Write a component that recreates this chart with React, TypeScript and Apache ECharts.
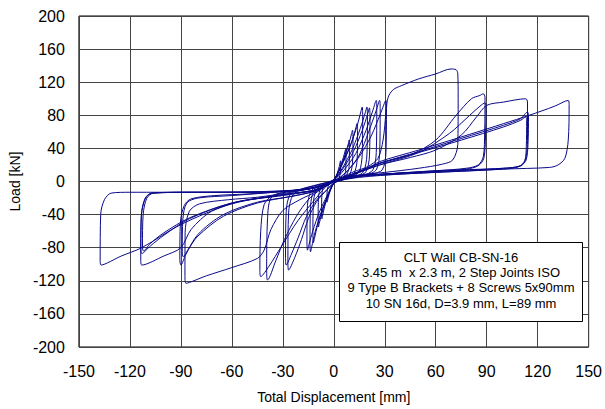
import React, { useEffect, useRef } from "react";
import * as echarts from "echarts";

// Tick values
const xTicks = [-150, -120, -90, -60, -30, 0, 30, 60, 90, 120, 150];
const yTicks = [-200, -160, -120, -80, -40, 0, 40, 80, 120, 160, 200];

const legendLines = [
  "CLT Wall CB-SN-16",
  "3.45 m  x 2.3 m, 2 Step Joints ISO",
  "9 Type B Brackets + 8 Screws 5x90mm",
  "10 SN 16d, D=3.9 mm, L=89 mm",
];

// [displacement mm, load kN], in loading order
const initialCycles: number[][] = [
  [0, 0], [1, 5], [2.2, 11], [3.2, 18], [4, 25], [4.1, 21], [3.8, 10], [3, 4], [1.5, 1], [0, -2],
  [-1, -6], [-2.2, -12], [-3.2, -19], [-4, -25], [-4.1, -21], [-3.8, -10], [-3, -4], [-1.5, -1], [0, 2],
  [1.8, 8], [3.9, 18], [5.6, 29], [6.7, 37], [7, 40], [7.2, 34], [7, 14], [6, 6], [3, 3], [0, -2],
  [-1.8, -9], [-3.9, -20], [-5.6, -32], [-6.7, -42], [-7, -45], [-7.2, -38], [-7, -16], [-6, -7], [-3, -3], [0, 2],
  [2.3, 10], [5, 22], [7.2, 36], [8.6, 46], [9, 50], [9.2, 43], [9, 18], [7.5, 8], [4, 3], [0, -2],
  [-2.3, -11], [-5, -25], [-7.2, -40], [-8.6, -51], [-9, -55], [-9.2, -47], [-9, -19], [-7.5, -8], [-4, -3], [0, 2],
];

const smallCycles: number[][] = [
  [2.8, 12], [6, 28], [8.8, 45], [10.5, 58], [11, 62], [11.3, 54], [11, 22], [9.5, 9], [7, 5], [4, 3], [0, -2],
  [-3, -15], [-6.6, -33], [-9.6, -53], [-11.4, -69], [-12, -74], [-12.3, -65], [-12, -26], [-10.5, -11], [-8, -6], [-4, -3], [0, 2],
  [3.4, 14], [7.5, 32], [11, 50], [13, 65], [13.7, 70], [14, 62], [13.7, 25], [12, 10], [9, 5], [5, 3], [0, -2],
  [-3.4, -17], [-7.5, -38], [-11, -61], [-13, -79], [-13.7, -85], [-14, -75], [-13.7, -30], [-12, -12], [-9, -6], [-5, -3], [0, 2],
  [4, 18], [9, 40], [13.4, 65], [15.9, 84], [16.7, 90], [17, 80], [16.7, 32], [15, 12], [11, 6], [6, 3], [0, -2],
  [-3.9, -17], [-8.5, -37], [-12.4, -60], [-14.7, -77], [-15.5, -83], [-15.8, -73], [-15.5, -29], [-13.5, -12], [-10, -6], [-5, -3], [0, 2],
  [5, 16], [10.7, 38], [15.6, 64], [18.5, 83], [19.5, 90], [19.8, 80], [19.5, 32], [17.5, 12], [13, 6], [7, 3], [0, -2],
  [-4, -10], [-10, -24], [-15, -45], [-19, -70], [-23, -92], [-26.6, -107], [-27, -96], [-26.6, -38], [-24, -16], [-18, -9], [-9, -4], [0, 2],
  [5.2, 15], [11.5, 36], [16.8, 62], [20, 82], [21, 89], [21.3, 79], [21, 31], [19, 12], [14, 6], [7, 3], [0, -2],
  [-4, -10], [-10, -22], [-16, -42], [-21, -68], [-25, -88], [-28, -101], [-28.4, -90], [-28, -36], [-25.5, -15], [-19, -9], [-10, -4], [0, 2],
];

const mediumCycles: number[][] = [
  [6, 14], [13, 34], [19, 62], [23, 86], [25, 98], [25.3, 88], [25, 35], [23, 14], [17, 7], [9, 4], [2, 1], [-3, -4],
  [-8, -10], [-15, -22], [-22, -42], [-29, -70], [-34, -95], [-39, -119], [-39.5, -108], [-39, -45], [-37, -20], [-30, -13], [-18, -9], [-8, -5], [0, 1], [4, 5],
  [9, 15], [15, 32], [20.5, 60], [25, 86], [27, 98], [27.3, 88], [27, 35], [25, 14], [19, 8], [10, 5], [2, 2], [-4, -5],
  [-10, -19], [-21, -47], [-31, -79], [-38, -102], [-43, -115], [-43.5, -106], [-43, -60], [-41, -28], [-36, -17], [-25, -12], [-12, -8], [-2, -2], [3, 4],
  [8, 13], [15, 30], [22, 55], [27.5, 82], [30.7, 98], [31, 88], [30.7, 35], [28.5, 14], [22, 9], [12, 6], [3, 3], [-3, -3],
  [-10, -12], [-20, -22], [-30, -35], [-37, -58], [-41, -83], [-45, -93], [-60, -104], [-75, -114], [-87, -123],
  [-87.6, -114], [-87.5, -62], [-85, -36], [-79, -27], [-62, -22], [-45, -19], [-25, -13], [-10, -7], [0, 0], [5, 5],
];

const largeCycles: number[][] = [
  [12, 12], [20, 18], [26, 28], [29, 50], [30.8, 85], [32, 102], [35, 111], [40, 116], [50, 124], [60, 130], [69, 136], [72, 135],
  [73, 130], [73.2, 100], [73, 45], [70, 26], [64, 21], [50, 16], [30, 11], [15, 8], [5, 4], [-2, -2],
  [-10, -11], [-25, -18], [-45, -25], [-65, -40], [-80, -64], [-87, -88], [-90, -101],
  [-90.6, -94], [-90.3, -50], [-88, -29], [-84, -21], [-70, -17], [-50, -15], [-30, -12], [-15, -9], [-5, -4], [2, 3],
  [10, 8], [20, 16], [27, 22], [46, 33], [60, 50], [72, 80], [81, 100], [86, 104], [88, 106],
  [89, 102], [88.8, 60], [88, 30], [85, 20], [78, 16], [60, 13], [30, 9], [10, 6], [0, 1], [-5, -5],
  [-12, -12], [-25, -18], [-45, -26], [-65, -42], [-80, -66], [-86, -83], [-88.6, -91],
  [-89.2, -85], [-88.8, -45], [-86.5, -26], [-80, -20], [-60, -17], [-35, -13], [-15, -9], [-4, -3], [3, 3],
  [10, 7], [20, 15], [30, 22], [50, 35], [68, 58], [80, 80], [86, 91], [89, 95],
  [89.6, 90], [89.3, 55], [88.3, 28], [85, 19], [78, 15], [60, 12], [30, 9], [10, 5], [1, 1], [-6, -6],
  [-12, -11], [-30, -17], [-55, -24], [-72, -36], [-84, -58], [-90, -80], [-100, -90], [-113, -101],
  [-113.6, -95], [-113.3, -42], [-111, -21], [-107, -14], [-90, -13], [-60, -13], [-35, -12], [-15, -9], [-4, -3], [4, 4],
];

const finalCycles: number[][] = [
  [12, 9], [27, 20], [45, 29], [60, 38], [75, 56], [84, 78], [90, 92], [100, 96], [113, 100],
  [114, 96], [114, 50], [113, 28], [110, 19], [100, 16], [60, 13], [30, 9], [10, 6], [0, 1], [-6, -6],
  [-12, -11], [-30, -16], [-60, -26], [-85, -45], [-100, -65], [-108, -78], [-113, -87],
  [-113.6, -80], [-113.2, -40], [-111, -20], [-107, -14], [-80, -13], [-50, -13], [-30, -12], [-15, -9], [-5, -4], [2, 2],
  [10, 8], [27, 22], [50, 36], [75, 52], [100, 68], [110, 76], [114, 84],
  [114.6, 80], [114.3, 45], [113.2, 26], [110, 19], [100, 16], [60, 12], [30, 9], [10, 6], [-1, 0], [-7, -7],
  [-13, -11], [-30, -16], [-60, -26], [-85, -44], [-100, -62], [-108, -75], [-112, -84],
  [-112.6, -78], [-112.2, -40], [-110, -20], [-106, -14], [-80, -13], [-50, -13], [-30, -12], [-15, -9], [-5, -4], [3, 3],
  [10, 8], [27, 22], [50, 35], [75, 50], [100, 66], [110, 74], [113, 78],
  [113.5, 74], [113.3, 42], [112.4, 25], [109, 18], [100, 15], [60, 11], [30, 8], [10, 5], [0, 0], [-6, -6],
  [-12, -11], [-30, -16], [-60, -27], [-90, -52], [-113, -80], [-125, -90], [-137, -101],
  [-137.5, -95], [-137.2, -40], [-135, -22], [-131, -14], [-120, -13], [-80, -13], [-40, -12], [-15, -9], [-5, -4], [3, 3],
  [10, 8], [20, 16], [27, 24], [50, 38], [80, 57], [100, 70], [115, 80], [130, 91], [138, 98],
  [138.5, 93], [138, 50], [136, 28], [132, 20], [127, 17], [100, 15], [80, 13], [40, 9], [15, 5], [0, 0],
];

const FONT = "Liberation Sans, Arial, sans-serif";

export default function App() {
  const ref = useRef<HTMLDivElement>(null);
  useEffect(() => {
    if (!ref.current) return;
    const chart = echarts.init(ref.current, null, { renderer: "svg" });
    const data = [
      ...initialCycles,
      ...smallCycles,
      ...mediumCycles,
      ...largeCycles,
      ...finalCycles,
    ];
    chart.setOption({
      animation: false,
      backgroundColor: "#fff",
      grid: {
        left: 77,
        right: 15,
        top: 16,
        bottom: 62,
        show: true,
        borderColor: "#000",
        borderWidth: 1,
        backgroundColor: "transparent",
      },
      xAxis: {
        type: "value",
        min: xTicks[0],
        max: xTicks[xTicks.length - 1],
        interval: 30,
        name: "Total Displacement [mm]",
        nameLocation: "middle",
        nameGap: 43,
        nameTextStyle: { fontFamily: FONT, fontSize: 14, color: "#000" },
        axisLine: { show: false },
        axisTick: { show: false },
        axisLabel: { fontFamily: FONT, fontSize: 16, color: "#000", margin: 16 },
        splitLine: { show: true, lineStyle: { color: "#444", width: 1 } },
      },
      yAxis: {
        type: "value",
        min: yTicks[0],
        max: yTicks[yTicks.length - 1],
        interval: 40,
        name: "Load [kN]",
        nameLocation: "middle",
        nameGap: 56,
        nameTextStyle: { fontFamily: FONT, fontSize: 14, color: "#000" },
        axisLine: { show: false },
        axisTick: { show: false },
        axisLabel: { fontFamily: FONT, fontSize: 16, color: "#000", margin: 14 },
        splitLine: { show: true, lineStyle: { color: "#444", width: 1 } },
      },
      series: [
        {
          type: "line",
          data,
          showSymbol: false,
          smooth: 0.3,
          lineStyle: { color: "#0a0a8a", width: 1 },
          z: 3,
        },
      ],
      graphic: [
        {
          type: "rect",
          z: 100,
          shape: { x: 339.5, y: 242.5, width: 243, height: 79 },
          style: { fill: "#fff", stroke: "#000", lineWidth: 1 },
        },
        ...legendLines.map((t, i) => ({
          type: "text",
          z: 101,
          x: 461,
          y: 257 + i * 15.4,
          style: {
            text: t,
            fontFamily: FONT,
            fontSize: 13,
            fill: "#000",
            textAlign: "center",
            textVerticalAlign: "middle",
          },
        })),
      ],
    });
    return () => chart.dispose();
  }, []);
  return (
    <div
      ref={ref}
      style={{ position: "fixed", left: 0, top: 0, width: 605, height: 409 }}
    />
  );
}
